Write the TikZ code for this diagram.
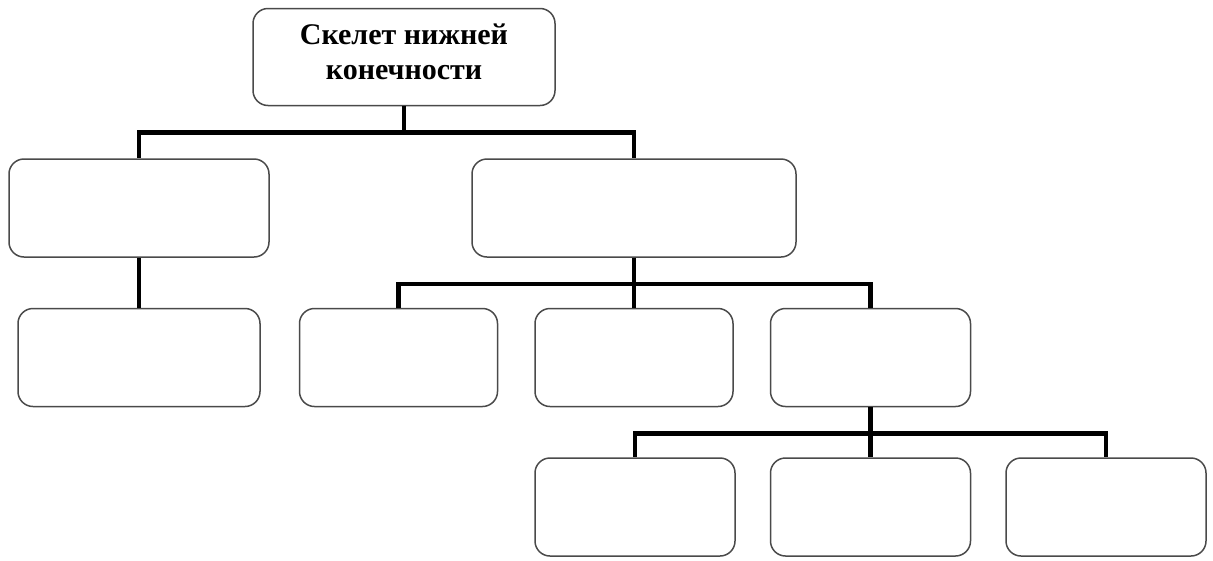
\documentclass[tikz,border=0pt]{standalone}
\usepackage{fontspec}
\setmainfont{Liberation Serif}
\usetikzlibrary{positioning}
\definecolor{boxEdge}{HTML}{4A4A4A}
\tikzset{
  link/.style={line width=4.5pt, black},
  box/.style={rectangle, rounded corners=15pt, draw=boxEdge, line width=1.5pt,
              fill=white, minimum width=198pt, minimum height=98pt, align=center},
  title/.style={box, font=\fontsize{30pt}{35pt}\selectfont\bfseries,
                minimum width=302pt, minimum height=97pt, text depth=10pt},
}
\begin{document}
\begin{tikzpicture}[x=1pt, y=1pt, node distance=50pt]
    \useasboundingbox (0,0) rectangle (1213,-560);
    \node[title] (limb) at (404,-57) {Скелет нижней\\конечности};
    \node[box, minimum width=260pt] (girdle) at (139,-208) {};
    \node[box, minimum width=324pt] (free) at (634,-208) {};
    \node[box, minimum width=242pt, below=of girdle] (pelvis) {};
    \node[box, below=of free] (shin) {};
    \node[box, left=36pt of shin] (femur) {};
    \node[box, minimum width=200pt, right=36pt of shin] (foot) {};
    \node[box, minimum width=200pt, below=of foot] (metatarsus) {};
    \node[box, minimum width=200pt, left=34pt of metatarsus] (tarsus) {};
    \node[box, minimum width=200pt, right=34pt of metatarsus] (phalanges) {};
    % connectors
    \draw[link] (limb.south) -- ++(0,-26) -| (girdle.north);
    \draw[link] (limb.south) -- ++(0,-26) -| (free.north);
    \draw[link] (girdle.south) -- (pelvis.north);
    \draw[link] (free.south) -- ++(0,-26) -| (femur.north);
    \draw[link] (free.south) -- (shin.north);
    \draw[link] (free.south) -- ++(0,-26) -| (foot.north);
    \draw[link] (foot.south) -- ++(0,-26) -| (tarsus.north);
    \draw[link] (foot.south) -- (metatarsus.north);
    \draw[link] (foot.south) -- ++(0,-26) -| (phalanges.north);
\end{tikzpicture}
\end{document}
